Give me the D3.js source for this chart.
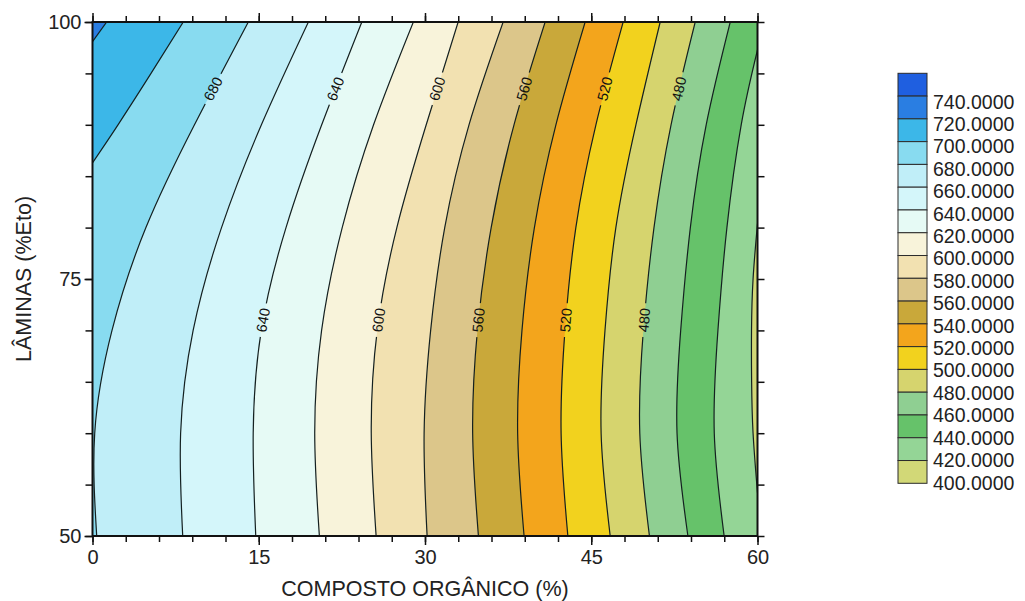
<!DOCTYPE html>
<html>
<head>
<meta charset="utf-8">
<script src="https://cdn.jsdelivr.net/npm/d3@7"></script>
<style>
  body { margin: 0; background: #fff; }
  svg { display: block; font-family: "Liberation Sans", Arial, sans-serif; }
</style>
</head>
<body>
<div id="chart"></div>
<script>
// legend classes (lower bound of each band) and their colours
var legendValues = [740, 720, 700, 680, 660, 640, 620, 600, 580, 560, 540, 520, 500, 480, 460, 440, 420, 400];
var legendColors = ["#1f5fe0", "#2a7ee2", "#3cb7e8", "#88dbf0", "#c0eef8", "#d4f6fa", "#e6faf5", "#f8f3da", "#f2e1b1",
                    "#dcc68a", "#c9a83a", "#f3a51c", "#f2d21e", "#d6d46e", "#8fcf92", "#66c26a", "#94d596", "#d2d877"];

// contour lines, [composto %, lamina %Eto], walked with the lower side on the right
var c720 = [[0, 98.1], [1.28, 100]];
var c700 = [[0, 86.3], [2.3, 90], [5.28, 95], [8.19, 100]];
var c680 = [[0.38, 50], [0.2, 60], [1.76, 70], [4.82, 80], [9.20, 90], [14.06, 100]];
var c660 = [[8.14, 50], [7.95, 60], [9.08, 70], [11.64, 80], [15.24, 90], [19.48, 100]];
var c640 = [[14.73, 50], [14.5, 60], [15.23, 70], [17.46, 80], [20.68, 90], [24.30, 100]];
var c620 = [[20.47, 50], [20.05, 60], [20.67, 70], [22.53, 80], [25.36, 90], [28.95, 100]];
var c600 = [[25.59, 50], [25.15, 60], [25.69, 70], [27.46, 80], [30.11, 90], [32.99, 100]];
var c580 = [[30.19, 50], [29.92, 60], [30.51, 70], [31.78, 80], [33.97, 90], [37.05, 100]];
var c560 = [[34.82, 50], [34.30, 60], [34.73, 70], [35.97, 80], [38.03, 90], [40.84, 100]];
var c540 = [[38.94, 50], [38.36, 60], [38.75, 70], [39.87, 80], [41.81, 90], [44.45, 100]];
var c520 = [[42.89, 50], [42.28, 60], [42.63, 70], [43.61, 80], [45.42, 90], [47.88, 100]];
var c500 = [[46.71, 50], [45.89, 60], [46.24, 70], [47.22, 80], [49.03, 90], [51.22, 100]];
var c480 = [[50.25, 50], [49.38, 60], [49.70, 70], [50.66, 80], [52.20, 90], [54.38, 100]];
var c460 = [[53.72, 50], [52.74, 60], [53.07, 70], [53.94, 80], [55.37, 90], [57.54, 100]];
var c440 = [[56.99, 50], [56.10, 60], [56.43, 70], [57.24, 80], [58.53, 90], [60, 97.28]];
var c420 = [[60, 54.2], [59.6, 60], [59.47, 65], [59.46, 70], [59.6, 75], [60, 80.4]];

// which lines carry a value label, and at what lamina
var labelsTop = [680, 640, 600, 560, 520, 480];
var labelsMid = [640, 600, 560, 520, 480];
var labelTopY = 93.5, labelMidY = 71;

// axis ticks
var xMinor = d3.range(0, 61, 3);
var xMajor = [0, 15, 30, 45, 60];
var yMinor = d3.range(50, 101, 5);
var yMajor = [50, 75, 100];

var contours = [
    {level: 720, pts: c720}, {level: 700, pts: c700}, {level: 680, pts: c680}, {level: 660, pts: c660},
    {level: 640, pts: c640}, {level: 620, pts: c620}, {level: 600, pts: c600}, {level: 580, pts: c580},
    {level: 560, pts: c560}, {level: 540, pts: c540}, {level: 520, pts: c520}, {level: 500, pts: c500},
    {level: 480, pts: c480}, {level: 460, pts: c460}, {level: 440, pts: c440}, {level: 420, pts: c420}
];

var plot = {left: 92.5, right: 757.5, top: 22, bottom: 536};
var xScale = d3.scaleLinear().domain([0, 60]).range([plot.left, plot.right]);
var yScale = d3.scaleLinear().domain([50, 100]).range([plot.bottom, plot.top]);
var colorOf = d3.scaleOrdinal().domain(legendValues).range(legendColors);
var x0 = 0, x1 = 60, y0 = 50, y1 = 100;

var svg = d3.select("#chart").append("svg")
    .attr("width", 1025)
    .attr("height", 601);
var defs = svg.append("defs");
defs.append("clipPath").attr("id", "plot-clip")
    .append("rect")
    .attr("x", plot.left).attr("y", plot.top)
    .attr("width", plot.right - plot.left).attr("height", plot.bottom - plot.top);

var lineGen = d3.line()
    .x(function(d) { return xScale(d[0]); })
    .y(function(d) { return yScale(d[1]); })
    .curve(d3.curveNatural);

// position of a frame point along the border, clockwise from the top-left corner
function perim(p) {
    var e = 1e-6;
    if (Math.abs(p[1] - y1) < e) return (p[0] - x0) / (x1 - x0);
    if (Math.abs(p[0] - x1) < e) return 1 + (y1 - p[1]) / (y1 - y0);
    if (Math.abs(p[1] - y0) < e) return 2 + (x1 - p[0]) / (x1 - x0);
    return 3 + (p[1] - y0) / (y1 - y0);
}
var corners = [[x0, y1], [x1, y1], [x1, y0], [x0, y0]];

// area below a level: the line, then back along the frame
function lowRegion(pts) {
    var tStart = perim(pts[0]);
    var tEnd = perim(pts[pts.length - 1]);
    if (tStart <= tEnd) tStart += 4;
    var d = lineGen(pts);
    for (var k = Math.floor(tEnd) + 1; k < tStart; k++) {
        var c = corners[k % 4];
        d += "L" + xScale(c[0]) + "," + yScale(c[1]);
    }
    return d + "Z";
}

var chartGroup = svg.append("g").attr("clip-path", "url(#plot-clip)");
chartGroup.append("rect")
    .attr("x", plot.left).attr("y", plot.top)
    .attr("width", plot.right - plot.left).attr("height", plot.bottom - plot.top)
    .attr("fill", colorOf(contours[0].level));
chartGroup.selectAll("path.band")
    .data(contours)
    .enter()
    .append("path")
    .attr("class", "band")
    .attr("d", function(d) { return lowRegion(d.pts); })
    .attr("fill", function(d) { return colorOf(d.level - 20); });

// contour lines, with gaps under the labels
var mask = defs.append("mask").attr("id", "label-gaps").attr("maskUnits", "userSpaceOnUse")
    .attr("x", 0).attr("y", 0).attr("width", 1025).attr("height", 601);
mask.append("rect").attr("width", 1025).attr("height", 601).attr("fill", "white");

var lineGroup = chartGroup.append("g").attr("mask", "url(#label-gaps)");
var lines = lineGroup.selectAll("path.contour")
    .data(contours)
    .enter()
    .append("path")
    .attr("class", "contour")
    .attr("d", function(d) { return lineGen(d.pts); })
    .attr("fill", "none")
    .attr("stroke", "#142020")
    .attr("stroke-width", 1.2);

var labelSpecs = [];
labelsTop.forEach(function(l) { labelSpecs.push({level: l, y: labelTopY}); });
labelsMid.forEach(function(l) { labelSpecs.push({level: l, y: labelMidY}); });

var labelGroup = chartGroup.append("g");
labelSpecs.forEach(function(spec) {
    var node = lines.filter(function(d) { return d.level === spec.level; }).node();
    var target = yScale(spec.y);
    var len = node.getTotalLength();
    var lo = 0, hi = len;
    for (var i = 0; i < 40; i++) {
        var mid = (lo + hi) / 2;
        if (node.getPointAtLength(mid).y > target) lo = mid; else hi = mid;
    }
    var at = (lo + hi) / 2;
    var p = node.getPointAtLength(at);
    var pa = node.getPointAtLength(Math.max(0, at - 5));
    var pb = node.getPointAtLength(Math.min(len, at + 5));
    var angle = Math.atan2(pb.y - pa.y, pb.x - pa.x) * 180 / Math.PI;
    var tr = "translate(" + p.x + "," + p.y + ") rotate(" + angle + ")";
    mask.append("rect")
        .attr("x", -17).attr("y", -6).attr("width", 34).attr("height", 12)
        .attr("transform", tr)
        .attr("fill", "black");
    labelGroup.append("text")
        .attr("transform", tr)
        .attr("text-anchor", "middle")
        .attr("dy", "0.35em")
        .attr("font-size", 14.5)
        .attr("fill", "#111")
        .text(spec.level);
});

// axes
function styleAxis(g) {
    g.select(".domain").remove();
    g.selectAll(".tick line").attr("stroke", "#111").attr("stroke-width", 1.5);
    g.selectAll(".tick text").attr("font-size", 20).attr("fill", "#222")
        .attr("font-family", "'Liberation Sans', Arial, sans-serif");
}
svg.append("g").attr("transform", "translate(0," + plot.bottom + ")")
    .call(d3.axisBottom(xScale).tickValues(xMinor).tickSize(6).tickFormat(""))
    .call(styleAxis);
svg.append("g").attr("transform", "translate(0," + plot.bottom + ")")
    .call(d3.axisBottom(xScale).tickValues(xMajor).tickSize(9).tickPadding(5).tickFormat(d3.format("d")))
    .call(styleAxis);
svg.append("g").attr("transform", "translate(0," + plot.top + ")")
    .call(d3.axisTop(xScale).tickValues(xMinor).tickSize(6).tickFormat(""))
    .call(styleAxis);
svg.append("g").attr("transform", "translate(0," + plot.top + ")")
    .call(d3.axisTop(xScale).tickValues(xMajor).tickSize(9).tickFormat(""))
    .call(styleAxis);
svg.append("g").attr("transform", "translate(" + plot.left + ",0)")
    .call(d3.axisLeft(yScale).tickValues(yMinor).tickSize(7).tickFormat(""))
    .call(styleAxis);
svg.append("g").attr("transform", "translate(" + plot.left + ",0)")
    .call(d3.axisLeft(yScale).tickValues(yMajor).tickSize(8).tickPadding(3).tickFormat(d3.format("d")))
    .call(styleAxis);
svg.append("g").attr("transform", "translate(" + plot.right + ",0)")
    .call(d3.axisRight(yScale).tickValues(yMinor).tickSize(7).tickFormat(""))
    .call(styleAxis);

svg.append("rect")
    .attr("x", plot.left).attr("y", plot.top)
    .attr("width", plot.right - plot.left).attr("height", plot.bottom - plot.top)
    .attr("fill", "none")
    .attr("stroke", "#111")
    .attr("stroke-width", 2);

svg.append("text")
    .attr("x", (plot.left + plot.right) / 2)
    .attr("y", 596)
    .attr("text-anchor", "middle")
    .attr("font-size", 21.5)
    .attr("fill", "#222")
    .text("COMPOSTO ORGÂNICO (%)");
svg.append("text")
    .attr("transform", "translate(23," + (plot.top + plot.bottom) / 2 + ") rotate(-90)")
    .attr("text-anchor", "middle")
    .attr("dy", "0.35em")
    .attr("font-size", 21.5)
    .attr("fill", "#222")
    .text("LÂMINAS (%Eto)");

// legend
var legendBox = d3.scaleBand().domain(legendValues).range([73.3, 483.3]);
var legendText = d3.scalePoint().domain(legendValues).range([101.7, 482.7]);
var legend = svg.append("g");
legend.selectAll("rect")
    .data(legendValues)
    .enter()
    .append("rect")
    .attr("x", 898)
    .attr("y", function(d) { return legendBox(d); })
    .attr("width", 29)
    .attr("height", legendBox.bandwidth())
    .attr("fill", function(d) { return colorOf(d); })
    .attr("stroke", "#2b2b2b")
    .attr("stroke-width", 1);
legend.selectAll("text")
    .data(legendValues)
    .enter()
    .append("text")
    .attr("x", 933)
    .attr("y", function(d) { return legendText(d); })
    .attr("dy", "0.35em")
    .attr("font-size", 19.5)
    .attr("fill", "#222")
    .text(function(d) { return d3.format(".4f")(d); });
</script>
</body>
</html>
